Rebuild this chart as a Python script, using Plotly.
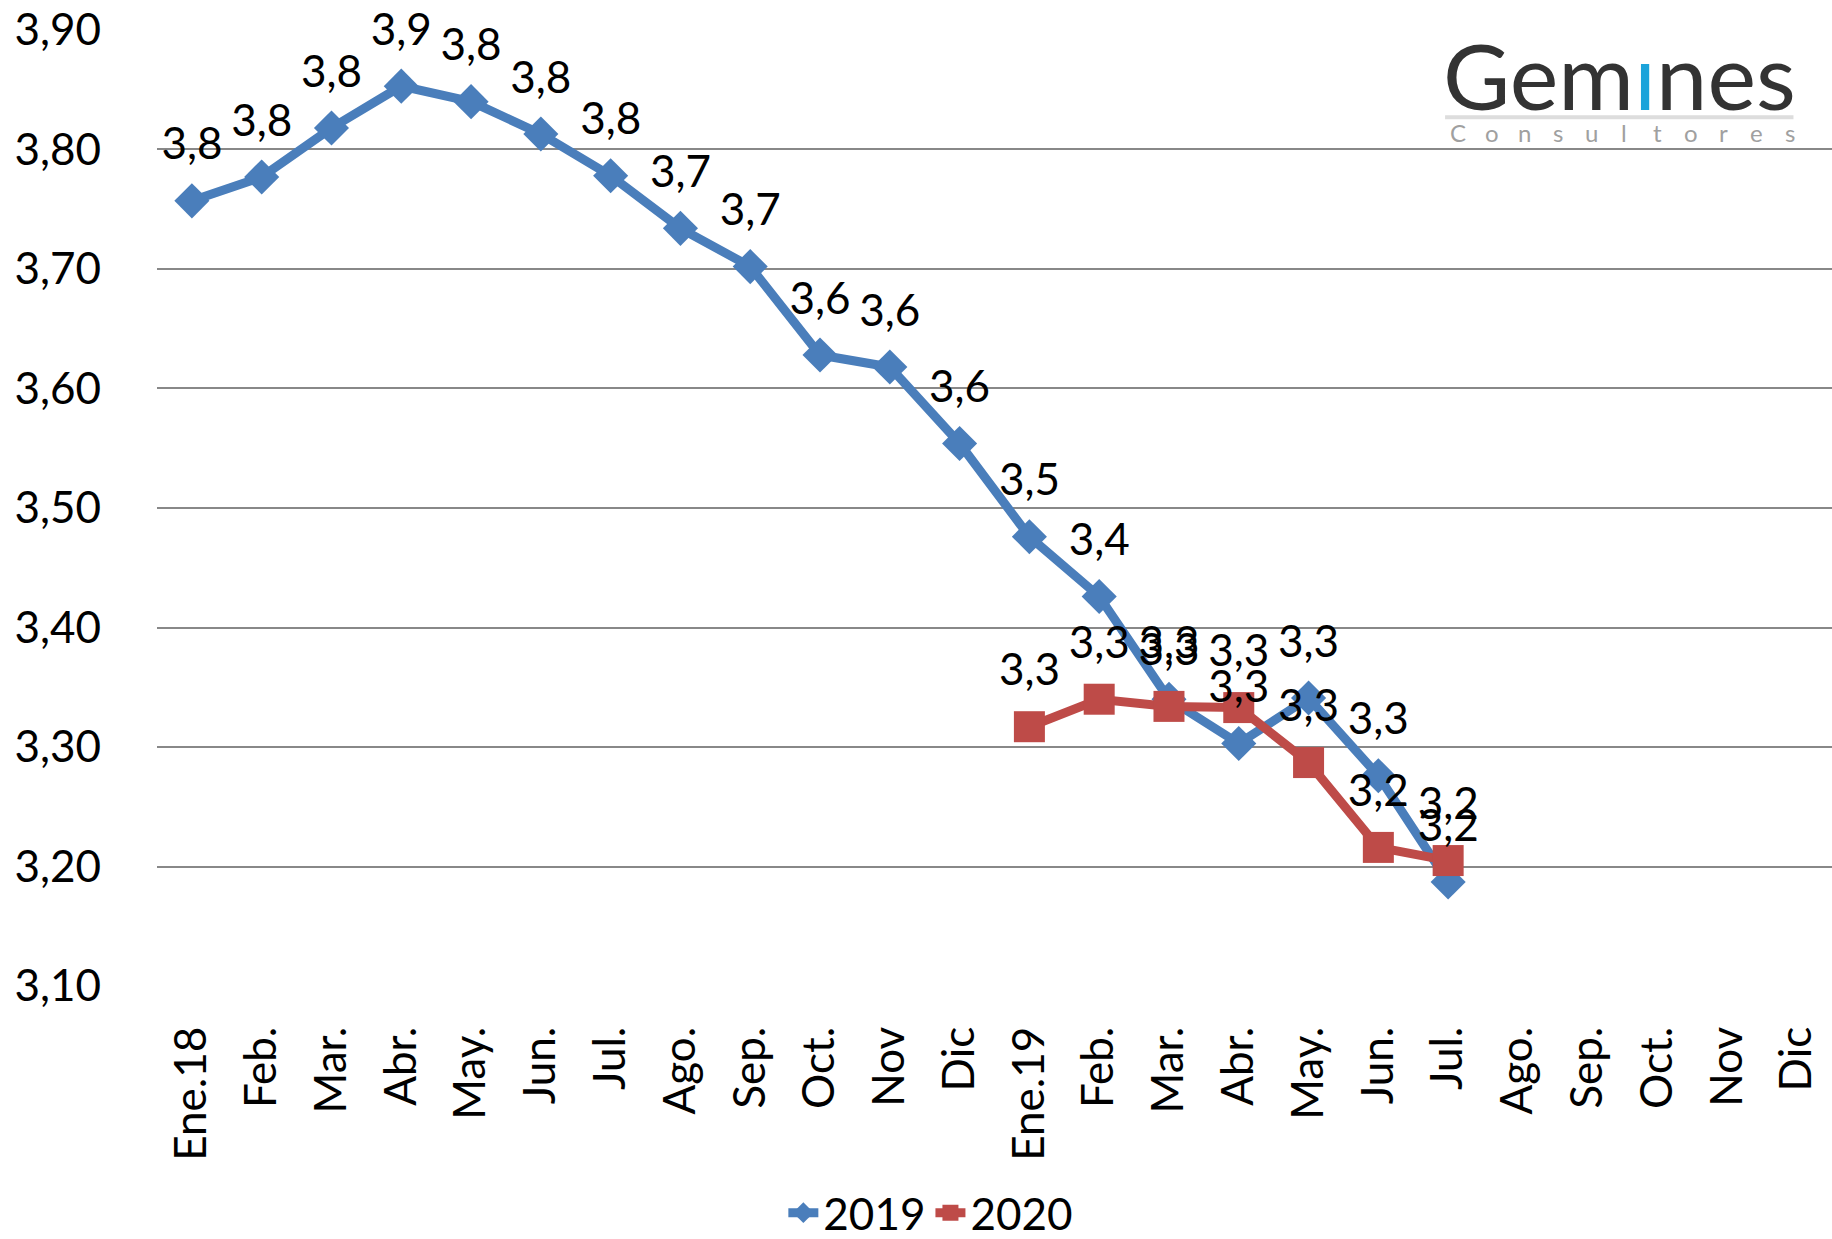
import plotly.graph_objects as go

months = ["Ene.18", "Feb.", "Mar.", "Abr.", "May.", "Jun.", "Jul.", "Ago.", "Sep.", "Oct.", "Nov", "Dic",
          "Ene.19", "Feb.", "Mar.", "Abr.", "May.", "Jun.", "Jul.", "Ago.", "Sep.", "Oct.", "Nov", "Dic"]

s2019 = [3.757, 3.777, 3.818, 3.853, 3.840, 3.813, 3.778, 3.734, 3.702, 3.628, 3.618, 3.554,
         3.476, 3.426, 3.340, 3.303, 3.341, 3.276, 3.187]
s2020 = [3.317, 3.340, 3.334, 3.333, 3.287, 3.216, 3.205]
s2020_start = 12

y_ticks = [3.10, 3.20, 3.30, 3.40, 3.50, 3.60, 3.70, 3.80, 3.90]

FONT = "Lato"
FS = 44
BLUE = "#4A7EBB"
RED = "#BE4B48"

x2019 = list(range(len(s2019)))
x2020 = list(range(s2020_start, s2020_start + len(s2020)))

fig = go.Figure()
fig.add_trace(go.Scatter(
    x=x2019, y=s2019, name="2019", mode="lines+markers",
    line=dict(color=BLUE, width=9),
    marker=dict(symbol="diamond", size=27, color=BLUE),
    cliponaxis=False,
))
fig.add_trace(go.Scatter(
    x=x2020, y=s2020, name="2020", mode="lines+markers",
    line=dict(color=RED, width=9),
    marker=dict(symbol="square", size=31, color=RED),
    cliponaxis=False,
))
# data labels (invisible larger markers push the labels higher, as in the original)
for xs, ys in ((x2019, s2019), (x2020, s2020)):
    fig.add_trace(go.Scatter(
        x=xs, y=ys, mode="markers+text", showlegend=False, hoverinfo="skip",
        marker=dict(size=47, color="rgba(0,0,0,0)"),
        texttemplate="%{y:.1f}", textposition="top center",
        textfont=dict(family=FONT, size=FS, color="black"),
        cliponaxis=False,
    ))

# Logo
fig.add_annotation(
    x=0.873, y=0.953, xref="paper", yref="paper", xanchor="center", yanchor="middle",
    text="<span style='color:#333333'>Gem</span><span style='color:#1BA3DA'>ı</span><span style='color:#333333'>nes</span>",
    showarrow=False, font=dict(family=FONT, size=92, color="#333333"),
)
fig.add_shape(type="line", xref="paper", yref="paper", x0=0.769, x1=0.977, y0=0.908, y1=0.908,
              line=dict(color="#DDDDDD", width=4))
letters = list("Consultores")
x0l, x1l = 0.777, 0.975
for i, ch in enumerate(letters):
    fig.add_annotation(
        x=x0l + (x1l - x0l) * i / (len(letters) - 1), y=0.892, xref="paper", yref="paper",
        xanchor="center", yanchor="middle", text=ch, showarrow=False,
        font=dict(family=FONT, size=24, color="#A0A0A0"),
    )

fig.update_layout(
    width=1832, height=1239,
    margin=dict(l=157, r=0, t=29, b=252, autoexpand=False),
    paper_bgcolor="white", plot_bgcolor="white",
    separators=",.",
    font=dict(family=FONT, size=FS, color="black"),
    showlegend=True,
    legend=dict(orientation="h", x=0.462, xanchor="center", y=-0.236, yanchor="middle",
                font=dict(family=FONT, size=FS, color="black"), itemwidth=30,
                traceorder="normal"),
)
fig.update_xaxes(
    range=[-0.5, 23.5], tickmode="array", tickvals=list(range(len(months))), ticktext=months,
    tickangle=-90, showgrid=False, zeroline=False, showline=False, ticks="", automargin=False,
    ticklabelstandoff=30, tickfont=dict(family=FONT, size=FS, color="black"),
)
fig.update_yaxes(
    range=[3.0992, 3.9008], tickmode="array", tickvals=y_ticks, tickformat=".2f",
    showgrid=True, gridcolor="#888888", gridwidth=2, zeroline=False, showline=False, ticks="",
    automargin=False,
    ticklabelstandoff=55, tickfont=dict(family=FONT, size=FS, color="black"),
)

fig.write_html("out.html", config={"displayModeBar": False},
               post_script="document.body.style.margin='0';document.body.style.overflow='hidden';")
